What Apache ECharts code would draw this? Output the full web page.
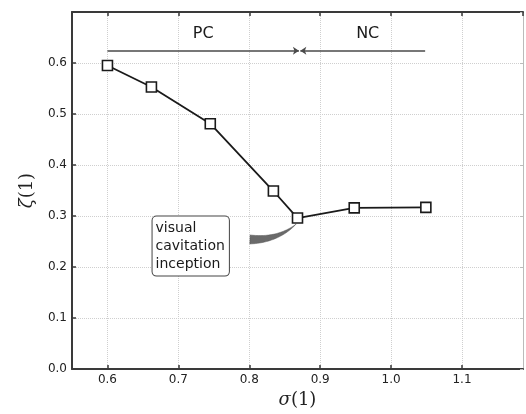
<!DOCTYPE html>
<html>
<head>
<meta charset="utf-8">
<script src="https://cdn.jsdelivr.net/npm/echarts@6/dist/echarts.min.js"></script>
<style>html,body{margin:0;padding:0;background:#fff;}#c{width:526px;height:414px;}</style>
</head>
<body>
<div id="c"></div>
<script>
// ---- data ----
const sigma = [0.600, 0.662, 0.745, 0.834, 0.868, 0.948, 1.049];
const zeta  = [0.595, 0.553, 0.481, 0.349, 0.296, 0.316, 0.317];
const yTicks = [0.0, 0.1, 0.2, 0.3, 0.4, 0.5, 0.6];
const xTicks = [0.6, 0.7, 0.8, 0.9, 1.0, 1.1];
const regimeY = 0.624;
const pcSpan = [0.600, 0.870];
const ncSpan = [1.048, 0.872];
const regimeLabels = ['PC', 'NC'];
const regimeLabelX = [0.735, 0.967];
const regimeLabelY = 0.657;
const noteText = ['visual', 'cavitation', 'inception'];
const noteAnchor = [0.6636, 0.241];
const arrowTail = [0.801, 0.254];
const arrowTip = [0.866, 0.284];

const chart = echarts.init(document.getElementById('c'), null, {renderer: 'canvas'});
const axisColor = '#3a3a3a';
const labelFont = {fontFamily: 'DejaVu Sans', fontSize: 12, color: '#222'};
const serif = 'DejaVu Serif';

const option = {
  animation: false,
  backgroundColor: '#fff',
  grid: {left: 72, top: 12, right: 3, bottom: 45, containLabel: false},
  xAxis: [{
    type: 'value', position: 'bottom', min: 0.55, max: 1.186, splitNumber: 6,
    axisLine: {show: true, onZero: false, lineStyle: {color: axisColor, width: 2}},
    axisTick: {show: true, inside: true, length: 4, lineStyle: {color: axisColor, width: 1.5}},
    splitLine: {show: true, lineStyle: {color: '#cfcfcf', type: 'dotted', width: 1}},
    axisLabel: Object.assign({margin: 5, showMinLabel: false, showMaxLabel: false,
      formatter: v => xTicks.some(t => Math.abs(t - v) < 1e-6) ? v.toFixed(1) : ''}, labelFont),
    name: '{i|σ}{n|(1)}', nameLocation: 'middle', nameGap: 22,
    nameTextStyle: {rich: {
      i: {fontFamily: serif, fontStyle: 'italic', fontSize: 18, color: '#222'},
      n: {fontFamily: serif, fontSize: 18, color: '#222'}}}
  }, {
    type: 'value', position: 'top', min: 0.55, max: 1.186, splitNumber: 6,
    axisLine: {show: true, onZero: false, lineStyle: {color: axisColor, width: 2}},
    axisTick: {show: true, inside: true, length: 4, lineStyle: {color: axisColor, width: 1.5}},
    splitLine: {show: false}, axisLabel: {show: false}
  }],
  yAxis: [{
    type: 'value', position: 'left', min: 0, max: 0.7, interval: 0.1,
    axisLine: {show: true, onZero: false, lineStyle: {color: axisColor, width: 2}},
    axisTick: {show: true, inside: true, length: 4, lineStyle: {color: axisColor, width: 1.5}},
    splitLine: {show: true, lineStyle: {color: '#cfcfcf', type: 'dotted', width: 1}},
    axisLabel: Object.assign({margin: 5,
      formatter: v => yTicks.some(t => Math.abs(t - v) < 1e-6) ? v.toFixed(1) : ''}, labelFont),
    name: '{i|ζ}{n|(1)}', nameLocation: 'middle', nameGap: 36, nameRotate: 90,
    nameTextStyle: {rich: {
      i: {fontFamily: serif, fontStyle: 'italic', fontSize: 18, color: '#222'},
      n: {fontFamily: serif, fontSize: 18, color: '#222'}}}
  }, {
    type: 'value', position: 'right', min: 0, max: 0.7, interval: 0.1,
    axisLine: {show: true, onZero: false, lineStyle: {color: '#bbb', width: 1}},
    axisTick: {show: true, inside: true, length: 3, lineStyle: {color: '#bbb', width: 1}},
    splitLine: {show: false}, axisLabel: {show: false}
  }],
  series: [{
    type: 'line', xAxisIndex: 0, yAxisIndex: 0,
    data: sigma.map((s, i) => [s, zeta[i]]),
    symbol: 'rect', symbolSize: 10, showSymbol: true,
    lineStyle: {color: '#1a1a1a', width: 1.8},
    itemStyle: {color: '#fff', borderColor: '#1a1a1a', borderWidth: 1.6},
    z: 5
  }, {
    type: 'line', data: [], silent: true,
    markLine: {
      silent: true, animation: false,
      symbol: ['none', 'arrow'], symbolSize: 6,
      label: {show: false},
      lineStyle: {color: '#4a4a4a', width: 1.5, type: 'solid'},
      itemStyle: {color: '#333'},
      emphasis: {disabled: true},
      data: [
        [{coord: [pcSpan[0], regimeY]}, {coord: [pcSpan[1], regimeY]}],
        [{coord: [ncSpan[0], regimeY]}, {coord: [ncSpan[1], regimeY]}]
      ]
    }
  }, {
    type: 'scatter', symbolSize: 0, silent: true,
    itemStyle: {opacity: 1},
    data: regimeLabels.map((t, i) => ({value: [regimeLabelX[i], regimeLabelY], name: t})),
    label: {show: true, position: 'inside', formatter: p => p.name,
      fontFamily: 'DejaVu Sans', fontSize: 16, color: '#1a1a1a'}
  }, {
    type: 'scatter', symbolSize: 0, silent: true,
    itemStyle: {opacity: 1},
    data: [{value: noteAnchor, name: noteText.join('\n')}],
    label: {show: true, position: 'right', distance: 0, formatter: p => p.name,
      fontFamily: 'DejaVu Sans', fontSize: 14, lineHeight: 18, color: '#1a1a1a',
      align: 'left', backgroundColor: '#fff',
      borderColor: '#444', borderWidth: 1, borderRadius: 4, padding: [3, 4, 2, 3]}
  }]
};
chart.setOption(option);

// curved wedge arrow built from data-space anchor points
function wedge() {
  const p0 = chart.convertToPixel({gridIndex: 0}, arrowTail);
  const p2 = chart.convertToPixel({gridIndex: 0}, arrowTip);
  const p1 = [p0[0] + (p2[0] - p0[0]) * 0.6, p0[1] + 1];
  const n = 30, half = 4.5;
  const up = [], dn = [];
  for (let k = 0; k <= n; k++) {
    const t = k / n;
    const x = (1 - t) * (1 - t) * p0[0] + 2 * (1 - t) * t * p1[0] + t * t * p2[0];
    const y = (1 - t) * (1 - t) * p0[1] + 2 * (1 - t) * t * p1[1] + t * t * p2[1];
    let dx = 2 * (1 - t) * (p1[0] - p0[0]) + 2 * t * (p2[0] - p1[0]);
    let dy = 2 * (1 - t) * (p1[1] - p0[1]) + 2 * t * (p2[1] - p1[1]);
    const L = Math.hypot(dx, dy) || 1;
    const nx = -dy / L, ny = dx / L;
    const w = half * (1 - t);
    up.push([x + nx * w, y + ny * w]);
    dn.push([x - nx * w, y - ny * w]);
  }
  return up.concat(dn.reverse());
}
chart.setOption({graphic: [{
  type: 'polygon', silent: true, z: 4,
  shape: {points: wedge()},
  style: {fill: '#6a6a6a', stroke: '#555', lineWidth: 0.5}
}]});
</script>
</body>
</html>
